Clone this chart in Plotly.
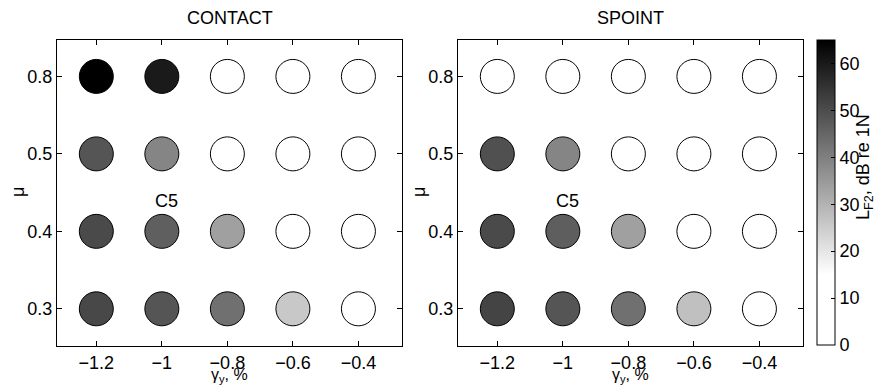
import plotly.graph_objects as go

# ---- data ----
gamma = [-1.2, -1.0, -0.8, -0.6, -0.4]
mu = ["0.3", "0.4", "0.5", "0.8"]
# L_F2 values (dB re 1N); rows follow mu, columns follow gamma
contact = [
    [50.9, 48.3, 43.0, 25.8, 8.0],   # mu 0.3
    [50.5, 46.4, 33.6, 8.0, 8.0],    # mu 0.4
    [48.3, 38.9, 8.0, 8.0, 8.0],     # mu 0.5
    [65.0, 59.9, 8.0, 8.0, 8.0],     # mu 0.8
]
spoint = [
    [51.7, 48.3, 43.0, 27.4, 8.0],
    [50.5, 46.6, 33.6, 8.0, 8.0],
    [49.3, 38.9, 8.0, 8.0, 8.0],
    [8.0, 8.0, 8.0, 8.0, 8.0],
]
panel_titles = ["CONTACT", "SPOINT"]
cbar_ticks = [0, 10, 20, 30, 40, 50, 60]
label_text = "C5"
label_x = -0.985
label_mu = "0.4"
label_offset = 0.39  # in category steps above the mu row

W, H = 875, 385
FONT = "Liberation Sans, Arial, Helvetica, sans-serif"
FS = 18

def px_x(p):
    return p / W

def px_y(p):
    return 1 - p / H

mu_pos = list(range(len(mu)))

fig = go.Figure()

for i, vals in enumerate([contact, spoint]):
    xs, ys, cs = [], [], []
    for r, m in enumerate(mu_pos):
        for c, g in enumerate(gamma):
            xs.append(g)
            ys.append(m)
            cs.append(vals[r][c])
    fig.add_trace(go.Scatter(
        x=xs, y=ys, mode="markers",
        xaxis="x" if i == 0 else "x2",
        yaxis="y" if i == 0 else "y2",
        marker=dict(size=34, color=cs, coloraxis="coloraxis",
                    line=dict(color="black", width=1)),
        showlegend=False, hoverinfo="skip",
    ))

axis_common = dict(
    showgrid=False, zeroline=False, showline=True, linecolor="black",
    linewidth=1, mirror="ticks", ticks="inside", ticklen=5,
    tickcolor="black", tickfont=dict(family=FONT, size=FS, color="black"),
)

xdoms = [[px_x(57), px_x(402)], [px_x(458), px_x(803)]]
ydom = [px_y(346), px_y(40)]

layout = dict(
    width=W, height=H, margin=dict(l=0, r=0, t=0, b=0),
    paper_bgcolor="white", plot_bgcolor="white",
    font=dict(family=FONT, size=FS, color="black"),
    coloraxis=dict(
        cmin=0, cmax=65,
        colorscale=[[0, "rgb(255,255,255)"], [15 / 65, "rgb(255,255,255)"], [1, "rgb(0,0,0)"]],
        colorbar=dict(
            x=px_x(817), xanchor="left", y=px_y(345), yanchor="bottom",
            len=(345 - 40) / H, lenmode="fraction", thickness=18, thicknessmode="pixels",
            outlinecolor="black", outlinewidth=1,
            tickvals=cbar_ticks, ticks="inside", ticklen=4, tickcolor="black",
            tickfont=dict(family=FONT, size=FS, color="black"),
            xpad=0, ypad=0,
        ),
    ),
)
for i in range(2):
    sx = "" if i == 0 else "2"
    layout["xaxis" + sx] = dict(axis_common, domain=xdoms[i], range=[-1.32, -0.267],
                                tickvals=gamma, anchor="y" + sx)
    layout["yaxis" + sx] = dict(axis_common, domain=ydom, tickvals=mu_pos, ticktext=mu,
                                range=[-0.48, 3.47], anchor="x" + sx)
fig.update_layout(**layout)

ann = []
for i, t in enumerate(panel_titles):
    ann.append(dict(text=t, xref="paper", yref="paper",
                    x=(xdoms[i][0] + xdoms[i][1]) / 2, y=px_y(18),
                    showarrow=False, xanchor="center", yanchor="middle"))
    ann.append(dict(text="γ<sub>y</sub>, %", xref="paper", yref="paper",
                    x=(xdoms[i][0] + xdoms[i][1]) / 2, y=px_y(375),
                    showarrow=False, xanchor="center", yanchor="middle",
                    font=dict(size=16)))
    ann.append(dict(text="μ", xref="paper", yref="paper",
                    x=px_x(18 if i == 0 else 419), y=px_y(192), textangle=-90,
                    showarrow=False, xanchor="center", yanchor="middle"))
    ann.append(dict(text=label_text, xref="x" if i == 0 else "x2", yref="y" if i == 0 else "y2",
                    x=label_x, y=mu.index(label_mu) + label_offset,
                    showarrow=False, xanchor="center", yanchor="middle"))
ann.append(dict(text="L<sub>F2</sub>, dB re 1N", xref="paper", yref="paper",
                x=px_x(864), y=px_y(167), textangle=-90,
                showarrow=False, xanchor="center", yanchor="middle"))
fig.update_layout(annotations=ann)

fig.write_html("out.html")
